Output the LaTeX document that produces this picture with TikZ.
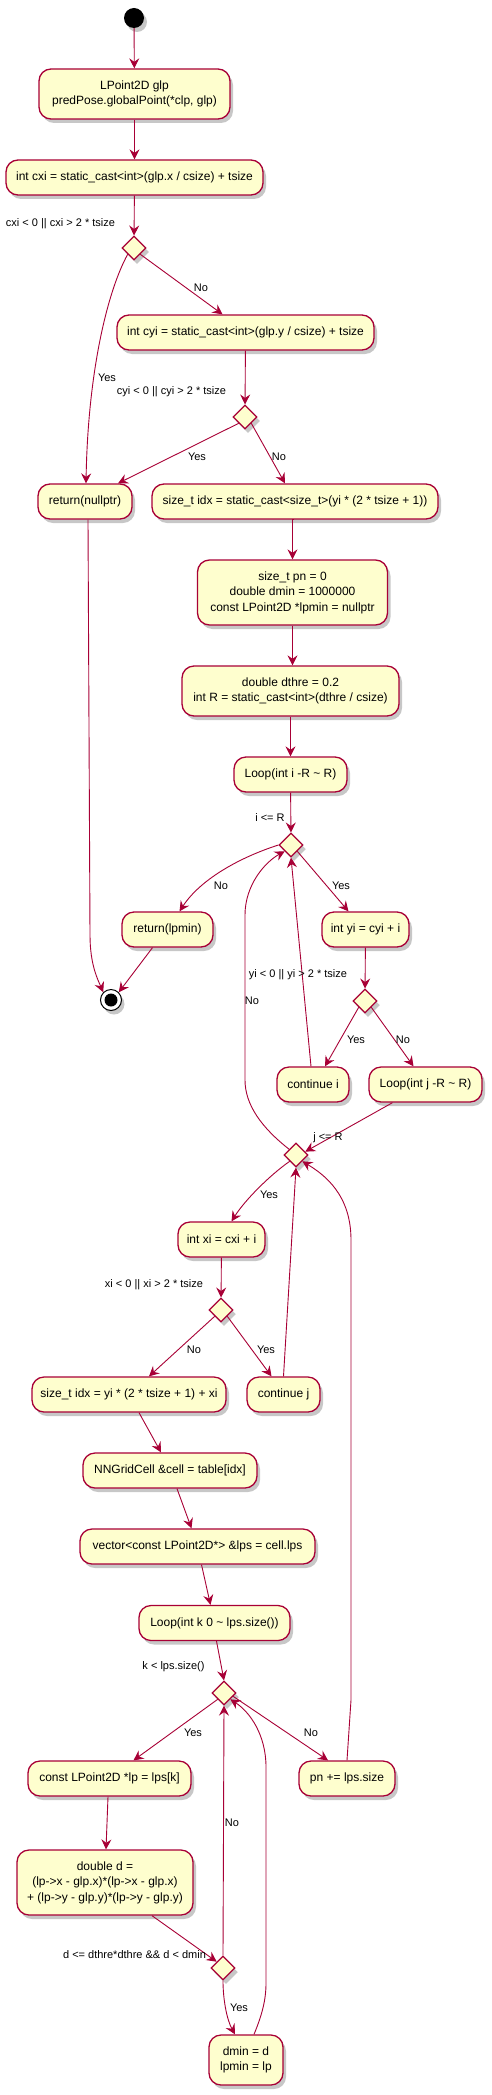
\documentclass[tikz,border=0pt]{standalone}
\usepackage{fontspec}
\setmainfont{Liberation Sans}
\usetikzlibrary{shapes.geometric,arrows.meta,shadows}
\definecolor{pfill}{HTML}{FEFECE}
\definecolor{pline}{HTML}{A80036}
\begin{document}
\begin{tikzpicture}[x=1pt,y=-1pt,
  shad/.style={drop shadow={shadow xshift=3pt,shadow yshift=-4pt,fill=black,opacity=0.22}},
  act/.style={draw=pline, fill=pfill, line width=1.3pt, rounded corners=12pt, minimum height=35pt, inner xsep=6pt, inner ysep=4pt, align=center, font=\fontsize{12}{15.5}\selectfont, shad},
  dec/.style={draw=pline, fill=pfill, line width=1.2pt, diamond, minimum width=24pt, minimum height=24pt, inner sep=0pt, shad},
  flow/.style={draw=pline, line width=0.9pt, -{Stealth[length=10pt,width=10pt,inset=3.5pt]}},
  lbl/.style={font=\fontsize{11}{13}\selectfont, inner sep=0pt, text=black},
]
\fill[white] (0,0) rectangle (492,2095);
\useasboundingbox (0,0) rectangle (492,2095);

% nodes
\node[circle, fill=black, minimum size=20pt, inner sep=0pt, shad] (start) at (134,18) {};
\node[act, minimum width=191pt, minimum height=50pt] (n1) at (134.5,94) {LPoint2D glp\\predPose.globalPoint(*clp, glp)};
\node[act, minimum width=257pt] (n2) at (134.5,177.5) {int cxi = static\_cast<int>(glp.x / csize) + tsize};
\node[dec] (d1) at (134,248) {};
\node[act, minimum width=257pt] (n3) at (245.5,332.5) {int cyi = static\_cast<int>(glp.y / csize) + tsize};
\node[dec] (d2) at (245,417) {};
\node[act, minimum width=94pt] (retnull) at (85,501.5) {return(nullptr)};
\node[act, minimum width=286pt] (idx1) at (295,501.5) {size\_t idx = static\_cast<size\_t>(yi * (2 * tsize + 1))};
\node[act, minimum width=190pt, minimum height=65pt] (pn) at (292.5,592.5) {size\_t pn = 0\\double dmin = 1000000\\const LPoint2D *lpmin = nullptr};
\node[act, minimum width=217pt, minimum height=50pt] (dthre) at (290.5,691) {double dthre = 0.2\\int R = static\_cast<int>(dthre / csize)};
\node[act, minimum width=113pt] (loopi) at (290.5,774.5) {Loop(int i -R \textasciitilde{} R)};
\node[dec] (d3) at (291,845) {};
\node[act, minimum width=91pt] (retlpmin) at (167.5,929.5) {return(lpmin)};
\node[act, minimum width=87pt] (yi) at (365.5,929.5) {int yi = cyi + i};
\node[circle, draw=black, fill=white, line width=1pt, minimum size=21pt, inner sep=0pt, shad] (stop) at (111,1000) {};
\node[circle, fill=black, minimum size=13pt, inner sep=0pt] (stopin) at (stop) {};
\node[dec] (d4) at (365,1001) {};
\node[act, minimum width=72pt] (conti) at (313,1084.5) {continue i};
\node[act, minimum width=113pt] (loopj) at (425.5,1084.5) {Loop(int j -R \textasciitilde{} R)};
\node[dec] (d5) at (296,1155) {};
\node[act, minimum width=87pt] (xi) at (221.5,1239.5) {int xi = cxi + i};
\node[dec] (d6) at (221,1310) {};
\node[act, minimum width=194pt] (idx2) at (129,1394.5) {size\_t idx = yi * (2 * tsize + 1) + xi};
\node[act, minimum width=73pt] (contj) at (283.5,1394.5) {continue j};
\node[act, minimum width=174pt] (cell) at (170,1470.5) {NNGridCell \&cell = table[idx]};
\node[act, minimum width=235pt] (vec) at (197.5,1546.5) {vector<const LPoint2D*> \&lps = cell.lps};
\node[act, minimum width=151pt] (loopk) at (214.5,1623) {Loop(int k 0 \textasciitilde{} lps.size())};
\node[dec] (d7) at (224,1693) {};
\node[act, minimum width=163pt] (lp) at (109.5,1778.5) {const LPoint2D *lp = lps[k]};
\node[act, minimum width=96pt] (pnadd) at (347,1778.5) {pn += lps.size};
\node[act, minimum width=176pt, minimum height=65pt] (dd) at (105,1882.5) {double d =\\(lp->x - glp.x)*(lp->x - glp.x)\\+ (lp->y - glp.y)*(lp->y - glp.y)};
\node[dec] (d8) at (223,1968) {};
\node[act, minimum width=74pt, minimum height=50pt] (dmin) at (246,2060) {dmin = d\\lpmin = lp};

% connectors
\draw[flow] (start) -- (n1);
\draw[flow] (n1) -- (n2);
\draw[flow] (n2) -- (d1);
\draw[flow] (d1.south east) -- ([xshift=-23pt]n3.north);
\draw[flow] (d1.south west) .. controls (108,290) and (88,370) .. ([xshift=1pt]retnull.north);
\draw[flow] (n3) -- (d2);
\draw[flow] (d2.south west) -- ([xshift=33pt]retnull.north);
\draw[flow] (d2.south east) -- ([xshift=-10pt]idx1.north);
\draw[flow] ([xshift=3pt]retnull.south) -- (90,935) .. controls (90,965) and (98,980) .. (stop.north west);
\draw[flow] ([xshift=-1pt]idx1.south) -- (idx1.south -| pn.north) -- (pn.north);
\draw[flow] (pn.south) -- (pn.south |- dthre.north);
\draw[flow] (dthre) -- (loopi);
\draw[flow] (loopi) -- (d3);
\draw[flow] (d3.west) .. controls (238,858) and (200,880) .. ([xshift=12pt]retlpmin.north);
\draw[flow] (d3.south east) -- ([xshift=-17pt]yi.north);
\draw[flow] ([xshift=-15pt]retlpmin.south) -- (stop.north east);
\draw[flow] (yi) -- (d4);
\draw[flow] (d4.south west) -- ([xshift=12pt]conti.north);
\draw[flow] (d4.south east) -- ([xshift=-12pt]loopj.north);
\draw[flow] ([xshift=-2pt]conti.north) -- (d3.south);
\draw[flow] ([xshift=-33pt]loopj.south) -- (d5.20);
\draw[flow] (d5.140) .. controls (262,1128) and (245,1105) .. (245,1080) -- (245,915) .. controls (245,885) and (265,862) .. (d3.south west);
\draw[flow] (d5.south west) .. controls (270,1175) and (245,1200) .. ([xshift=10pt]xi.north);
\draw[flow] (xi) -- (d6);
\draw[flow] (d6.south west) -- ([xshift=20pt]idx2.north);
\draw[flow] (d6.south east) -- ([xshift=-12pt]contj.north);
\draw[flow] (contj.north) -- (d5.south);
\draw[flow] (pnadd.north) -- (351,1700) -- (351,1240) .. controls (351,1195) and (325,1175) .. (d5.south east);
\draw[flow] ([xshift=10pt]idx2.south) -- ([xshift=-9pt]cell.north);
\draw[flow] ([xshift=7pt]cell.south) -- ([xshift=-6pt]vec.north);
\draw[flow] ([xshift=4pt]vec.south) -- ([xshift=-4pt]loopk.north);
\draw[flow] ([xshift=2pt]loopk.south) -- (d7.north);
\draw[flow] (d7.south west) -- ([xshift=24pt]lp.north);
\draw[flow] (d7.-20) -- ([xshift=-19pt]pnadd.north);
\draw[flow] ([xshift=-1.5pt]lp.south) -- ([xshift=1pt]dd.north);
\draw[flow] ([xshift=47pt]dd.south) -- (d8.north west);
\draw[flow] (d8.north) -- (d7.south);
\draw[flow] (d8.south) .. controls (223,2000) and (227,2020) .. ([xshift=-11pt]dmin.north);
\draw[flow] ([xshift=8pt]dmin.north) .. controls (262,2015) and (266,2000) .. (266,1983) -- (266,1767) .. controls (266,1735) and (250,1712) .. (d7.south east);

% labels
\node[lbl] (l1) at (60.5,224) {cxi < 0 || cxi > 2 * tsize};
\node[lbl] (l2) at (201,288) {No};
\node[lbl] (l3) at (107,378) {Yes};
\node[lbl] (l4) at (171.5,392) {cyi < 0 || cyi > 2 * tsize};
\node[lbl] (l5) at (197,457) {Yes};
\node[lbl] (l6) at (279,457) {No};
\node[lbl] (l7) at (270,818) {i <= R};
\node[lbl] (l8) at (221,886) {No};
\node[lbl] (l9) at (341,886) {Yes};
\node[lbl] (l10) at (298,975) {yi < 0 || yi > 2 * tsize};
\node[lbl] (l11) at (252,1001) {No};
\node[lbl] (l12) at (356,1040) {Yes};
\node[lbl] (l13) at (403,1040) {No};
\node[lbl] (l14) at (328,1138) {j <= R};
\node[lbl] (l15) at (269,1195) {Yes};
\node[lbl] (l16) at (154,1285) {xi < 0 || xi > 2 * tsize};
\node[lbl] (l17) at (194,1350) {No};
\node[lbl] (l18) at (266,1350) {Yes};
\node[lbl] (l19) at (173.5,1667) {k < lps.size()};
\node[lbl] (l20) at (193,1733) {Yes};
\node[lbl] (l21) at (311,1733) {No};
\node[lbl] (l22) at (232,1823) {No};
\node[lbl] (l23) at (134.5,1955) {d <= dthre*dthre \&\& d < dmin};
\node[lbl] (l24) at (239,2008) {Yes};
\end{tikzpicture}
\end{document}
